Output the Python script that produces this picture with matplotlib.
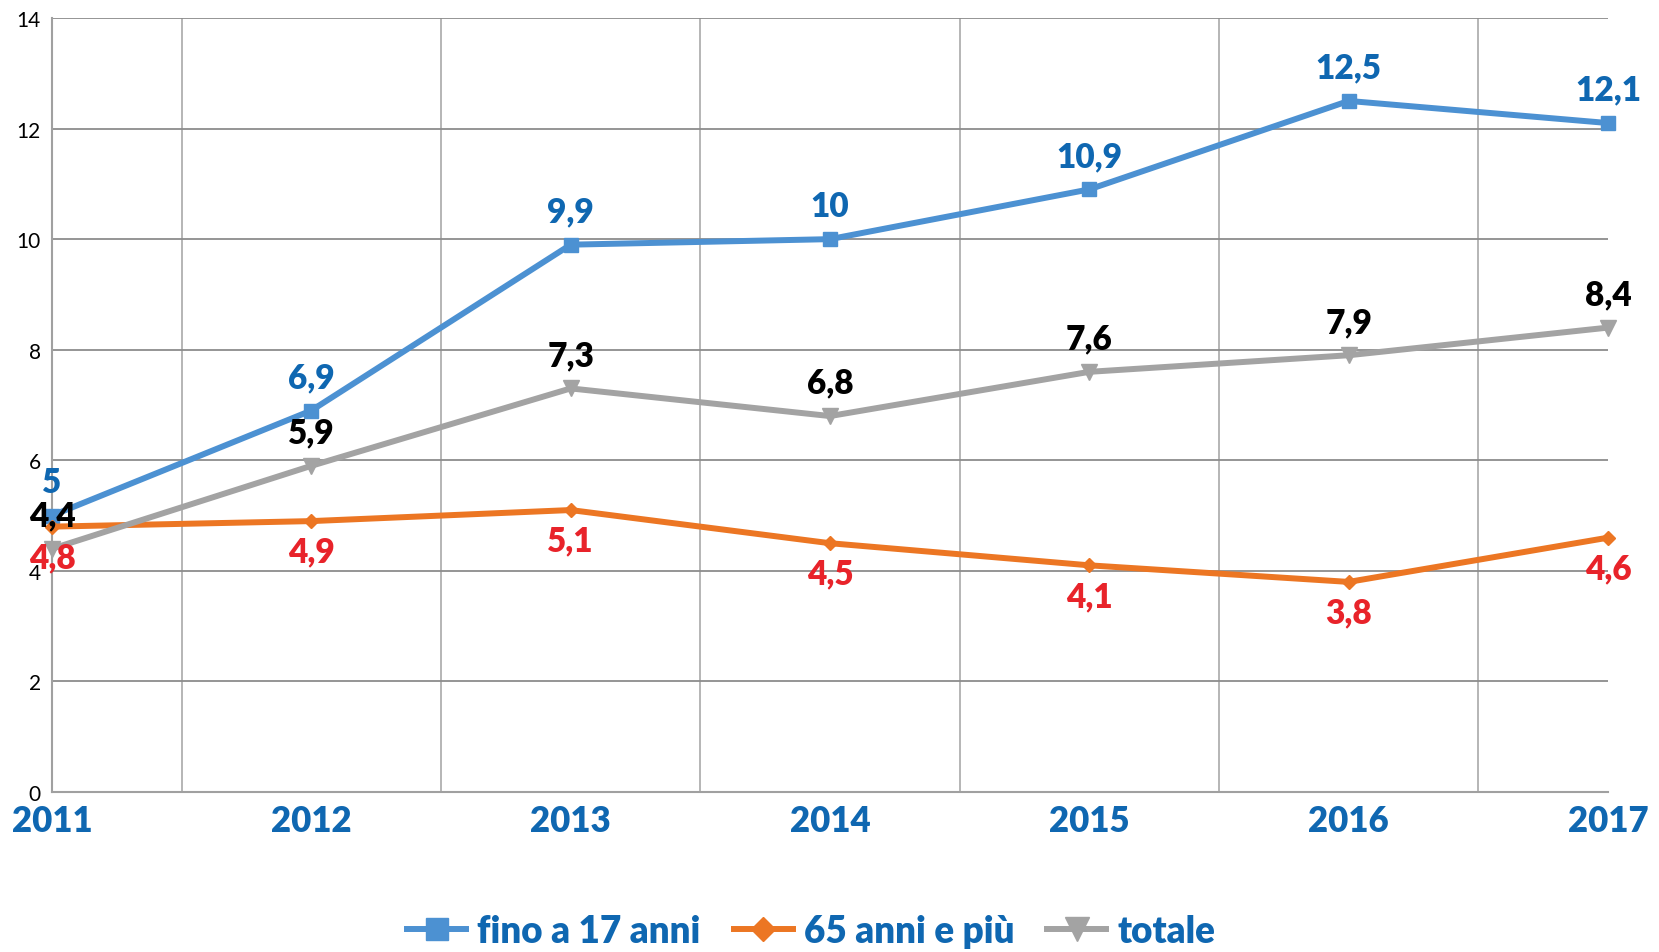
import matplotlib
matplotlib.use("Agg")
import matplotlib.pyplot as plt
import numpy as np

plt.rcParams['font.family'] = ['Lato', 'DejaVu Sans']

years = [2011, 2012, 2013, 2014, 2015, 2016, 2017]
fino17 = [5, 6.9, 9.9, 10, 10.9, 12.5, 12.1]
over65 = [4.8, 4.9, 5.1, 4.5, 4.1, 3.8, 4.6]
totale = [4.4, 5.9, 7.3, 6.8, 7.6, 7.9, 8.4]
labels_series = ["fino a 17 anni", "65 anni e più", "totale"]

blue_line = "#4c91d2"
orange_line = "#ec7623"
gray_line = "#a3a3a3"
blue_txt = "#0f67b1"
red_txt = "#e8232a"

fig = plt.figure(figsize=(16.59, 9.53), dpi=100)
ax = fig.add_axes([52 / 1659, 1 - 793 / 953, (1608 - 52) / 1659, (793 - 19) / 953])

ax.plot(years, fino17, color=blue_line, lw=4.3, marker="s", ms=10,
        clip_on=False, zorder=3, label=labels_series[0])
ax.plot(years, over65, color=orange_line, lw=4.3, marker="D", ms=7.5,
        clip_on=False, zorder=3, label=labels_series[1])
ax.plot(years, totale, color=gray_line, lw=4.3, marker="v", ms=11,
        clip_on=False, zorder=3, label=labels_series[2])

def fmt(v):
    return ("%g" % v).replace(".", ",")

lab_kw = dict(textcoords="offset points", ha="center", va="center",
              fontsize=24, fontweight="heavy", zorder=5, annotation_clip=False)
for x, v in zip(years, fino17):
    ax.annotate(fmt(v), (x, v), xytext=(0, 24), color=blue_txt, **lab_kw)
for x, v in zip(years, totale):
    ax.annotate(fmt(v), (x, v), xytext=(0, 24), color="black", **lab_kw)
for x, v in zip(years, over65):
    ax.annotate(fmt(v), (x, v), xytext=(0, -22), color=red_txt, **lab_kw)

ax.set_xlim(2011, 2017)
ax.set_ylim(0, 14)
ax.set_yticks(np.arange(0, 15, 2))
ax.set_xticks(years)
ax.set_xticks(np.arange(2011.5, 2017, 1), minor=True)
ax.tick_params(axis="x", which="both", length=0, pad=9)
ax.tick_params(axis="y", length=0, pad=8, labelsize=15)
for lab in ax.get_xticklabels():
    lab.set_fontsize(25)
    lab.set_fontweight("heavy")
    lab.set_color(blue_txt)

ax.grid(axis="y", color="#8c8c8c", lw=1.3, zorder=0)
ax.grid(axis="x", which="minor", color="#b0b0b0", lw=1.3, zorder=0)
ax.grid(axis="x", which="major", visible=False)
for s in ["top", "right"]:
    ax.spines[s].set_visible(False)
ax.spines["left"].set_color("#a0a0a0")
ax.spines["left"].set_linewidth(1.5)
ax.spines["bottom"].set_color("#a0a0a0")
ax.spines["bottom"].set_linewidth(1.5)

leg = fig.legend(loc="center", bbox_to_anchor=(0.489, 1 - 932 / 953), ncol=3,
                 frameon=False, fontsize=26.5, handlelength=1.6, markerscale=1.6,
                 columnspacing=0.9, handletextpad=0.3)
for t in leg.get_texts():
    t.set_color(blue_txt)
    t.set_fontweight("heavy")

fig.savefig("out.png", dpi=100)
